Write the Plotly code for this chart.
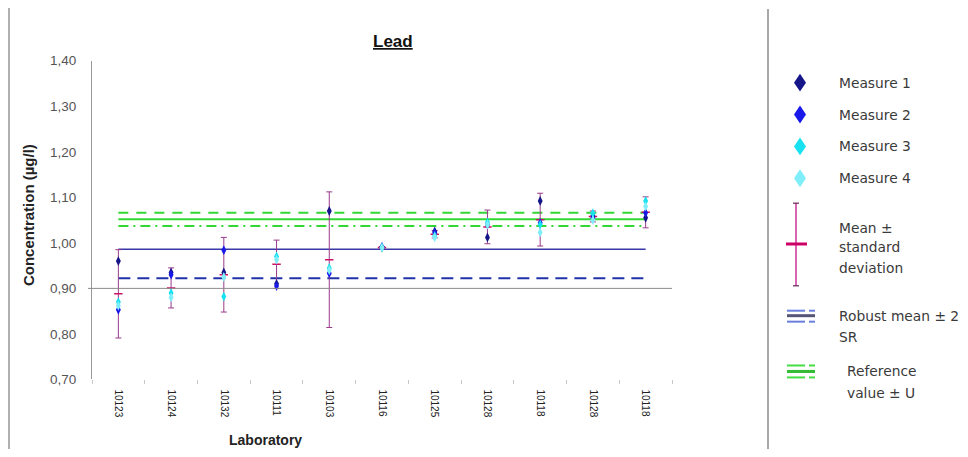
import plotly.graph_objects as go

# ---------------- data ----------------
labs = ["10123", "10124", "10132", "10111", "10103", "10116",
        "10125", "10128", "10118", "10128", "10118"]
measure1 = [0.960, 0.935, 0.935, 0.910, 1.070, 0.990, 1.025, 1.012, 1.092, 1.060, 1.055]
measure2 = [0.853, 0.930, 0.984, 0.905, 0.933, 0.991, 1.022, 1.040, 1.044, 1.055, 1.066]
measure3 = [0.870, 0.890, 0.882, 0.970, 0.945, 0.990, 1.015, 1.045, 1.040, 1.065, 1.092]
measure4 = [0.862, 0.880, 0.925, 0.963, 0.940, 0.989, 1.012, 1.040, 1.023, 1.050, 1.080]
lab_mean = [0.888, 0.901, 0.930, 0.953, 0.963, 0.990, 1.019, 1.035, 1.051, 1.058, 1.067]
lab_sd = [0.097, 0.044, 0.082, 0.053, 0.149, 0.002, 0.008, 0.037, 0.058, 0.012, 0.034]

robust_mean = 0.986
robust_low = 0.922
ref_value = 1.052
ref_high = 1.066
ref_low = 1.037

y_ticks = [0.70, 0.80, 0.90, 1.00, 1.10, 1.20, 1.30, 1.40]

# page body has an 8px margin: figure is sized to fit the 968x457 window
OFF = 8
W, H = 968 - OFF, 457 - 2 * OFF


def X(px):
    return (px - OFF) / W


def Y(py):
    # empirical vertical calibration of the capture
    e = (py - 6.3) / 0.97
    return 1 - (e - OFF) / H


xpos = list(range(len(labs)))
ends = [xpos[0], xpos[-1]]

fig = go.Figure()

# horizontal reference lines
fig.add_trace(go.Scatter(x=ends, y=[robust_low] * 2, mode="lines",
                         line=dict(color="#2233aa", width=2, dash="12px,7px"), hoverinfo="skip"))
fig.add_trace(go.Scatter(x=ends, y=[robust_mean] * 2, mode="lines",
                         line=dict(color="#3838a8", width=1.6), hoverinfo="skip"))
fig.add_trace(go.Scatter(x=ends, y=[ref_high] * 2, mode="lines",
                         line=dict(color="#33d633", width=2, dash="10px,8px"), hoverinfo="skip"))
fig.add_trace(go.Scatter(x=ends, y=[ref_low] * 2, mode="lines",
                         line=dict(color="#33d633", width=2, dash="10px,5px,2px,5px"), hoverinfo="skip"))
fig.add_trace(go.Scatter(x=ends, y=[ref_value] * 2, mode="lines",
                         line=dict(color="#33d633", width=2), hoverinfo="skip"))

# mean +/- standard deviation
fig.add_trace(go.Scatter(x=xpos, y=lab_mean, mode="markers",
                         marker=dict(symbol="line-ew", size=6, line=dict(color="#cc1166", width=1.5)),
                         error_y=dict(type="data", array=lab_sd, visible=True,
                                      color="#9a3a8a", thickness=1, width=3)))

colors = ["#15158a", "#1818e8", "#18e2f0", "#80eef8"]
for vals, c in zip([measure1, measure2, measure3, measure4], colors):
    fig.add_trace(go.Scatter(x=xpos, y=vals, mode="markers",
                             marker=dict(symbol="diamond-tall", size=7, color=c)))

shapes = []
# x axis line at 0.90
shapes.append(dict(type="line", xref="paper", yref="y", x0=X(88), x1=X(672), y0=0.90, y1=0.90,
                   line=dict(color="#8a8a8a", width=1)))
# frame lines
shapes.append(dict(type="line", xref="paper", yref="paper", x0=X(9), x1=X(9), y0=Y(0), y1=Y(457),
                   line=dict(color="#b0b0b0", width=2)))
shapes.append(dict(type="line", xref="paper", yref="paper", x0=X(768), x1=X(768), y0=Y(8), y1=Y(457),
                   line=dict(color="#a8a8a8", width=2)))


def diamond(cx, cy, hw, hh, color):
    p = "M {} {} L {} {} L {} {} L {} {} Z".format(
        X(cx), Y(cy - hh), X(cx + hw), Y(cy), X(cx), Y(cy + hh), X(cx - hw), Y(cy))
    return dict(type="path", xref="paper", yref="paper", path=p,
                fillcolor=color, line=dict(color=color, width=0))


for c, cy in zip(colors, [82, 114, 146, 178]):
    shapes.append(diamond(800, cy, 6, 9, c))


def seg(x0, y0, x1, y1, color, width, dash=None):
    d = dict(type="line", xref="paper", yref="paper", x0=X(x0), x1=X(x1), y0=Y(y0), y1=Y(y1),
             line=dict(color=color, width=width))
    if dash:
        d["line"]["dash"] = dash
    return d


# legend: error bar symbol
shapes.append(seg(796, 203, 796, 286, "#cc3399", 1.5))
shapes.append(seg(793, 203, 799, 203, "#662255", 1.2))
shapes.append(seg(793, 286, 799, 286, "#662255", 1.2))
shapes.append(seg(786, 244, 807, 244, "#cc0066", 3))
# legend: robust mean
shapes.append(seg(787, 311, 805, 311, "#6a7fdd", 2))
shapes.append(seg(809, 311, 815, 311, "#6a7fdd", 2))
shapes.append(seg(787, 316, 815, 316, "#555577", 3))
shapes.append(seg(787, 322, 805, 322, "#6a7fdd", 2))
shapes.append(seg(809, 322, 815, 322, "#6a7fdd", 2))
# legend: reference value
shapes.append(seg(787, 366, 805, 366, "#44dd44", 2))
shapes.append(seg(809, 366, 815, 366, "#44dd44", 2))
shapes.append(seg(787, 372, 815, 372, "#33bb33", 3))
shapes.append(seg(787, 378, 805, 378, "#44dd44", 2))
shapes.append(seg(809, 378, 815, 378, "#44dd44", 2))

lfont = dict(family="DejaVu Sans", size=13.8, color="#3a3a3a")
annotations = []


def txt(text, px, py, font=lfont, xanchor="left", **kw):
    annotations.append(dict(text=text, x=X(px), y=Y(py), xref="paper", yref="paper",
                            xanchor=xanchor, yanchor="middle", showarrow=False, font=font, **kw))


txt("Measure 1", 837, 82)
txt("Measure 2", 837, 114)
txt("Measure 3", 837, 146)
txt("Measure 4", 837, 178)
txt("Mean ±", 837, 228)
txt("standard", 837, 247)
txt("deviation", 837, 268)
txt("Robust mean ± 2", 837, 316)
txt("SR", 837, 337)
txt("Reference", 845, 372)
txt("value ± U", 845, 394)

txt("<b><u>Lead</u></b>", 393, 41, font=dict(family="Liberation Sans", size=17, color="#111"),
    xanchor="center")
txt("<b>Laboratory</b>", 265, 441, font=dict(family="Liberation Sans", size=14, color="#222"),
    xanchor="center")
txt("<b>Concentration (µg/l)</b>", 28, 215, font=dict(family="Liberation Sans", size=15, color="#222"),
    xanchor="center", textangle=-90)

fig.update_layout(
    width=W, height=H,
    margin=dict(l=0, r=0, t=0, b=0),
    paper_bgcolor="white", plot_bgcolor="white",
    showlegend=False,
    separators=",.",
    shapes=shapes,
    annotations=annotations,
    xaxis=dict(domain=[X(92), X(672)], range=[-0.5, len(labs) - 0.5],
               tickvals=xpos, ticktext=labs, tickangle=90,
               tickfont=dict(family="Liberation Sans", size=10, color="#222"),
               showgrid=False, zeroline=False, showline=False, ticks="",
               ticklabelstandoff=9,
               minor=dict(tickvals=[i - 0.5 for i in range(len(labs) + 1)],
                          ticks="outside", ticklen=4, tickcolor="#c8c8c8", showgrid=False)),
    yaxis=dict(domain=[Y(380), Y(60)], range=[0.70, 1.40],
               tickvals=y_ticks, tickformat=".2f",
               tickfont=dict(family="Liberation Sans", size=13.5, color="#555"),
               showgrid=False, zeroline=False, showline=True, linecolor="#999", linewidth=1,
               ticks="", ticklabelstandoff=12),
)

fig.write_html("out.html")
